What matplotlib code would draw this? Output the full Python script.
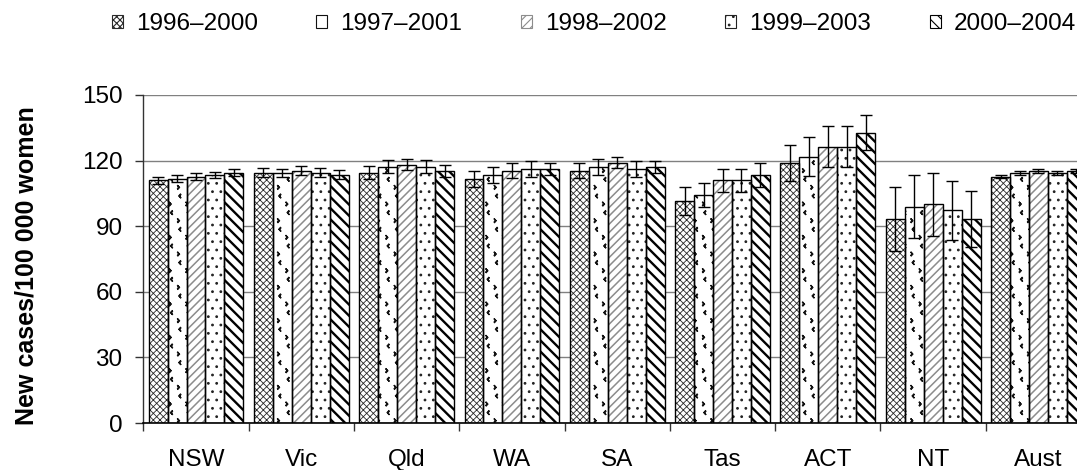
import warnings
import numpy as np
import matplotlib
matplotlib.use("Agg")
import matplotlib.pyplot as plt
from matplotlib import hatch as mhatch
from matplotlib.path import Path
from matplotlib.patches import Patch

warnings.filterwarnings("ignore")
plt.rcParams["font.family"] = ["Liberation Sans", "DejaVu Sans"]

regions = ["NSW", "Vic", "Qld", "WA", "SA", "Tas", "ACT", "NT", "Aust"]
periods = ["1996\u20132000", "1997\u20132001", "1998\u20132002", "1999\u20132003", "2000\u20132004"]

# Age-standardised incidence rates (new cases per 100 000 women) per period
rate_1996_2000 = [111.1, 114.5, 114.5, 111.7, 115.4, 101.6, 119.0, 93.4, 112.6]
rate_1997_2001 = [111.7, 114.3, 117.1, 113.4, 117.1, 104.2, 121.8, 98.9, 114.5]
rate_1998_2002 = [112.5, 115.4, 118.1, 115.4, 119.0, 111.0, 126.3, 100.0, 115.2]
rate_1999_2003 = [113.4, 114.5, 117.1, 116.3, 116.3, 111.0, 126.3, 97.3, 114.5]
rate_2000_2004 = [114.5, 113.5, 115.4, 116.3, 117.1, 113.4, 132.8, 93.4, 115.2]

# Half-widths of the 95% confidence intervals
ci_1996_2000 = [1.6, 2.0, 2.8, 3.7, 3.6, 6.4, 8.3, 14.6, 0.8]
ci_1997_2001 = [1.6, 2.0, 3.0, 3.7, 3.6, 5.5, 9.0, 14.5, 0.9]
ci_1998_2002 = [1.6, 2.0, 2.6, 3.6, 2.6, 5.3, 9.4, 14.5, 0.9]
ci_1999_2003 = [1.5, 2.0, 3.0, 3.7, 3.7, 5.3, 9.4, 13.5, 0.9]
ci_2000_2004 = [1.6, 2.0, 2.7, 2.7, 2.9, 5.6, 8.2, 12.7, 0.9]

y_ticks = [0, 30, 60, 90, 120, 150]

rates = [rate_1996_2000, rate_1997_2001, rate_1998_2002, rate_1999_2003, rate_2000_2004]
cis = [ci_1996_2000, ci_1997_2001, ci_1998_2002, ci_1999_2003, ci_2000_2004]


class ChevronHatch(mhatch.Shapes):
    """Scattered small '<' and '>' marks, selected with the '<' hatch char."""
    filled = False
    size = 1.0

    def __init__(self, hatch, density):
        self.num_rows = hatch.count("<") * density
        h, w = 0.10, 0.09
        lx, ly = -0.22, 0.25
        rx, ry = 0.22, -0.25
        self.shape_vertices = np.array([
            [lx + w / 2, ly + h], [lx - w / 2, ly], [lx + w / 2, ly - h],
            [rx - w / 2, ry + h], [rx + w / 2, ry], [rx - w / 2, ry - h],
        ])
        self.shape_codes = np.array([Path.MOVETO, Path.LINETO, Path.LINETO,
                                     Path.MOVETO, Path.LINETO, Path.LINETO],
                                    dtype=Path.code_type)
        super().__init__(hatch, density)


mhatch._hatch_types.append(ChevronHatch)

# Fill pattern per period: (hatch, hatch colour, hatch line width in pt)
styles = [
    ("xxxxx", "#2a2a2a", 0.6),
    ("<", "#111111", 1.0),
    ("////", "#8c8c8c", 1.1),
    ("..", "#222222", 0.8),
    ("\\\\\\", "#000000", 1.7),
]

FS = 17.5
fig = plt.figure(figsize=(10.77, 4.70), dpi=100)
ax = fig.add_axes([0.1331, 0.1, 0.880, 0.698])

x = np.arange(len(regions))
n = len(periods)
bar_w = 0.18


def add_hatched_bars(xpos, heights, hatch, hcolor, hlw):
    """Hatched fill in its own colour, then a black outline on top."""
    with plt.rc_context({"hatch.linewidth": hlw}):
        fill = ax.bar(xpos, heights, bar_w, color="white", edgecolor=hcolor,
                      linewidth=0, hatch=hatch, zorder=2)
    for p in fill:
        if hasattr(p, "set_hatch_linewidth"):
            p.set_hatch_linewidth(hlw)
    ax.bar(xpos, heights, bar_w, fill=False, edgecolor="black",
           linewidth=1.0, zorder=3)
    return fill


handles = []
for k in range(n):
    xpos = x + (k - (n - 1) / 2) * bar_w
    hatch, hcol, hlw = styles[k]
    add_hatched_bars(xpos, rates[k], hatch, hcol, hlw)
    ax.errorbar(xpos, rates[k], yerr=cis[k], fmt="none", ecolor="black",
                elinewidth=1.0, capsize=4.5, capthick=1.0, zorder=4)
    h = Patch(facecolor="white", edgecolor=hcol, hatch=hatch, linewidth=0.8)
    if hasattr(h, "set_hatch_linewidth"):
        h.set_hatch_linewidth(min(hlw, 1.0))
    handles.append(h)

ax.set_ylim(0, 150)
ax.set_yticks(y_ticks)
ax.set_xlim(-0.5, len(regions) - 0.5)
ax.set_xticks(x)
ax.set_xticklabels(regions)
ax.set_xticks(np.arange(len(regions) + 1) - 0.5, minor=True)

ax.tick_params(axis="x", which="major", length=0, pad=19, labelsize=FS)
ax.tick_params(axis="x", which="minor", length=6, width=1, direction="out",
               color="#333333")
ax.tick_params(axis="y", length=6, width=1, direction="out", pad=9,
               labelsize=FS, color="#333333")

ax.yaxis.grid(True, color="#808080", linewidth=1.0, zorder=0)
ax.set_axisbelow(True)
for side in ("top", "right"):
    ax.spines[side].set_visible(False)
ax.spines["left"].set_color("#333333")
ax.spines["bottom"].set_color("black")
ax.spines["left"].set_linewidth(1.0)
ax.spines["bottom"].set_linewidth(1.2)

ax.set_ylabel("New cases/100 000 women", fontsize=18, fontweight="bold")
ax.yaxis.set_label_coords(-0.111, 0.48)

with plt.rc_context({"hatch.linewidth": 0.8}):
    fig.legend(handles, periods, loc="center", bbox_to_anchor=(0.5515, 0.949),
               ncol=5, frameon=False, fontsize=FS, handlelength=0.45,
               handleheight=0.45, handletextpad=0.55, columnspacing=2.4)

fig.savefig("out.png", dpi=100)
